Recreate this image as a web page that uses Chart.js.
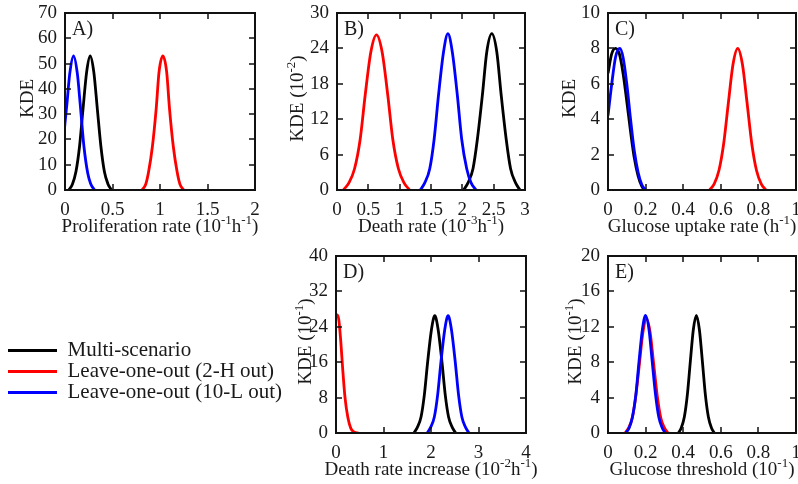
<!DOCTYPE html>
<html>
<head>
<meta charset="utf-8">
<script src="https://cdn.jsdelivr.net/npm/chart.js@4.4.0/dist/chart.umd.min.js"></script>
<style>
  body { margin: 0; background: #fff; }
  #wrap { position: relative; width: 798px; height: 484px; overflow: hidden; }
  #wrap canvas { position: absolute; left: 0; top: 0; }
  #wrap #legend { left: 8px; top: 340px; }
</style>
</head>
<body>
<div id="wrap">
  <canvas id="pa" width="798" height="484"></canvas>
  <canvas id="pb" width="798" height="484"></canvas>
  <canvas id="pc" width="798" height="484"></canvas>
  <canvas id="pd" width="798" height="484"></canvas>
  <canvas id="pe" width="798" height="484"></canvas>
  <canvas id="legend" width="300" height="150"></canvas>
</div>
<script>
// séries : abscisses et KDE pour chaque panneau
const seriesNames = ['Multi-scenario', 'Leave-one-out (2-H out)', 'Leave-one-out (10-L out)'];
const seriesColors = ['#000000', '#ff0000', '#0000ff'];

// A) Proliferation rate
const aBlackX = [0.04, 0.078, 0.115, 0.153, 0.19, 0.228, 0.265, 0.303, 0.34, 0.378, 0.415, 0.453, 0.49];
const aBlackY = [0, 2.3, 7.2, 17.2, 32.2, 46.7, 53, 46.7, 32.2, 17.2, 7.2, 2.3, 0];
const aRedX = [0.81, 0.85, 0.88, 0.92, 0.96, 0.99, 1.03, 1.07, 1.10, 1.14, 1.18, 1.21, 1.25];
const aRedY = [0, 2.3, 7.2, 17.2, 32.2, 46.7, 53, 46.7, 32.2, 17.2, 7.2, 2.3, 0];
const aBlueX = [-0.03, 0, 0.02, 0.05, 0.09, 0.13, 0.16, 0.2, 0.24, 0.27, 0.31];
const aBlueY = [14, 26.5, 34, 46, 53, 46, 34, 17, 6.5, 2.5, 0];

// B) Death rate
const bBlackX = [2.02, 2.09, 2.17, 2.24, 2.32, 2.39, 2.47, 2.55, 2.62, 2.70, 2.77, 2.85, 2.92];
const bBlackY = [0, 1.2, 3.6, 8.6, 16.1, 23.4, 26.5, 23.4, 16.1, 8.6, 3.6, 1.2, 0];
const bRedX = [0.1, 0.19, 0.28, 0.37, 0.45, 0.54, 0.63, 0.72, 0.81, 0.89, 0.98, 1.07, 1.16];
const bRedY = [0, 1.2, 3.6, 8.6, 16.1, 23.4, 26.3, 23.4, 16.1, 8.6, 3.6, 1.2, 0];
const bBlueX = [1.33, 1.40, 1.48, 1.55, 1.62, 1.70, 1.77, 1.84, 1.92, 1.99, 2.07, 2.14, 2.22];
const bBlueY = [0, 1.2, 3.6, 8.6, 16.1, 23.4, 26.5, 23.4, 16.1, 8.6, 3.6, 1.2, 0];

// C) Glucose uptake rate
const cBlackX = [0, 0.02, 0.04, 0.06, 0.08, 0.1, 0.12, 0.14, 0.16, 0.18, 0.195];
const cBlackY = [6.6, 7.7, 8, 7.7, 6.6, 5.0, 3.3, 1.8, 0.8, 0.2, 0];
const cRedX = [0.54, 0.565, 0.59, 0.615, 0.64, 0.665, 0.69, 0.715, 0.74, 0.765, 0.79, 0.815, 0.84];
const cRedY = [0, 0.35, 1.1, 2.6, 4.9, 7.1, 8, 7.1, 4.9, 2.6, 1.1, 0.35, 0];
const cBlueX = [0, 0.02, 0.04, 0.063, 0.08, 0.1, 0.12, 0.14, 0.16, 0.18, 0.2];
const cBlueY = [4.2, 6.0, 7.5, 8, 7.5, 6.0, 4.0, 2.2, 1.0, 0.3, 0];

// D) Death rate increase
const dBlackX = [1.64, 1.71, 1.79, 1.86, 1.93, 2.01, 2.08, 2.15, 2.23, 2.30, 2.37, 2.45, 2.52];
const dBlackY = [0, 1.2, 3.6, 8.6, 16.1, 23.4, 26.5, 23.4, 16.1, 8.6, 3.6, 1.2, 0];
const dRedX = [0, 0.03, 0.06, 0.1, 0.14, 0.19, 0.25, 0.31, 0.37, 0.43, 0.47];
const dRedY = [26.5, 26.7, 25.5, 20.8, 14.6, 8, 3.5, 1.1, 0.3, 0.05, 0];
const dBlueX = [1.92, 1.99, 2.07, 2.14, 2.21, 2.29, 2.36, 2.43, 2.51, 2.58, 2.65, 2.73, 2.80];
const dBlueY = [0, 1.2, 3.6, 8.6, 16.1, 23.4, 26.5, 23.4, 16.1, 8.6, 3.6, 1.2, 0];

// E) Glucose threshold
const eBlackX = [0.374, 0.39, 0.406, 0.422, 0.438, 0.454, 0.47, 0.486, 0.502, 0.518, 0.534, 0.55, 0.566];
const eBlackY = [0, 0.6, 1.8, 4.3, 8.1, 11.7, 13.3, 11.7, 8.1, 4.3, 1.8, 0.6, 0];
const eRedX = [0.091, 0.11, 0.129, 0.148, 0.167, 0.186, 0.205, 0.224, 0.243, 0.262, 0.281, 0.30, 0.319];
const eRedY = [0, 0.6, 1.7, 4.2, 7.8, 11.4, 12.9, 11.4, 7.8, 4.2, 1.7, 0.6, 0];
const eBlueX = [0.095, 0.113, 0.13, 0.148, 0.165, 0.183, 0.2, 0.218, 0.235, 0.253, 0.27, 0.288, 0.305];
const eBlueY = [0, 0.6, 1.8, 4.3, 8.1, 11.7, 13.3, 11.7, 8.1, 4.3, 1.8, 0.6, 0];

const FONT = 'Liberation Serif';
const INK = '#1a1a1a';
Chart.defaults.font.family = FONT;
Chart.defaults.color = INK;

const Y_W = 45, X_H = 40;

function serie(i, xs, ys) {
    return {
        label: seriesNames[i],
        data: xs.map((x, k) => ({ x, y: ys[k] })),
        borderColor: seriesColors[i],
        backgroundColor: seriesColors[i],
        borderWidth: 2.8,
        pointRadius: 0,
        cubicInterpolationMode: 'monotone',
        fill: false,
    };
}

// texte avec exposants : les morceaux qui commencent par ^ sont en exposant
function richWidth(ctx, parts, size) {
    let w = 0;
    parts.forEach(p => {
        const sup = p[0] === '^';
        ctx.font = (sup ? Math.round(size * 0.68) : size) + 'px "' + FONT + '"';
        w += ctx.measureText(sup ? p.slice(1) : p).width;
    });
    return w;
}
function drawRich(ctx, parts, x, y, size) {
    let cx = x - richWidth(ctx, parts, size) / 2;
    ctx.textAlign = 'left';
    ctx.textBaseline = 'alphabetic';
    parts.forEach(p => {
        const sup = p[0] === '^';
        const txt = sup ? p.slice(1) : p;
        ctx.font = (sup ? Math.round(size * 0.68) : size) + 'px "' + FONT + '"';
        ctx.fillText(txt, cx, sup ? y - size * 0.4 : y);
        cx += ctx.measureText(txt).width;
    });
}

function framePlugin(cfg) {
    return {
        id: 'frame',
        afterDatasetsDraw(chart) {
            const { ctx, chartArea: a, scales: { x, y } } = chart;
            ctx.save();
            ctx.strokeStyle = '#111';
            ctx.lineWidth = 1.5;
            ctx.beginPath();
            x.ticks.forEach(t => {
                const px = Math.round(x.getPixelForValue(t.value));
                ctx.moveTo(px, a.bottom); ctx.lineTo(px, a.bottom - 6);
                ctx.moveTo(px, a.top); ctx.lineTo(px, a.top + 6);
            });
            y.ticks.forEach(t => {
                const py = Math.round(y.getPixelForValue(t.value));
                ctx.moveTo(a.left, py); ctx.lineTo(a.left + 6, py);
                ctx.moveTo(a.right, py); ctx.lineTo(a.right - 6, py);
            });
            ctx.stroke();
            ctx.lineWidth = 2;
            ctx.strokeRect(a.left, a.top, a.right - a.left, a.bottom - a.top);

            ctx.fillStyle = INK;
            ctx.font = '20px "' + FONT + '"';
            ctx.textAlign = 'left';
            ctx.textBaseline = 'alphabetic';
            ctx.fillText(cfg.letter, a.left + 7, a.top + 22);

            drawRich(ctx, cfg.xTitle, (a.left + a.right) / 2, a.bottom + 42, 19);

            ctx.translate(a.left - cfg.yGap, (a.top + a.bottom) / 2 - 3);
            ctx.rotate(-Math.PI / 2);
            drawRich(ctx, cfg.yTitle, 0, 0, 19);
            ctx.restore();
        },
    };
}

const plain = v => String(+Number(v).toFixed(3));

function panel(id, area, xMax, xStep, yMax, yStep, cfg, datasets) {
    new Chart(document.getElementById(id), {
        type: 'line',
        data: { datasets },
        options: {
            responsive: false,
            animation: false,
            devicePixelRatio: 1,
            layout: {
                padding: {
                    left: area.left - Y_W,
                    top: area.top,
                    right: 798 - area.right,
                    bottom: 484 - area.bottom - X_H,
                },
            },
            scales: {
                x: {
                    type: 'linear',
                    min: 0, max: xMax,
                    grid: { display: false, drawTicks: false },
                    border: { display: false },
                    ticks: { stepSize: xStep, padding: 9, maxRotation: 0, autoSkip: false, font: { size: 19 }, callback: plain },
                    afterFit(s) { s.height = X_H; s.paddingLeft = 0; s.paddingRight = 0; },
                },
                y: {
                    type: 'linear',
                    min: 0, max: yMax,
                    grid: { display: false, drawTicks: false },
                    border: { display: false },
                    ticks: { stepSize: yStep, padding: 8, autoSkip: false, font: { size: 19 }, callback: plain },
                    afterFit(s) { s.width = Y_W; s.paddingTop = 0; s.paddingBottom = 0; },
                },
            },
            plugins: { legend: { display: false }, tooltip: { enabled: false } },
        },
        plugins: [framePlugin(cfg)],
    });
}

panel('pa', { left: 65, top: 13, right: 255, bottom: 190 }, 2, 0.5, 70, 10,
    { letter: 'A)', xTitle: ['Proliferation rate (10', '^-1', 'h', '^-1', ')'], yTitle: ['KDE'], yGap: 32 },
    [serie(2, aBlueX, aBlueY), serie(1, aRedX, aRedY), serie(0, aBlackX, aBlackY)]);

panel('pb', { left: 337, top: 13, right: 525, bottom: 190 }, 3, 0.5, 30, 6,
    { letter: 'B)', xTitle: ['Death rate (10', '^-3', 'h', '^-1', ')'], yTitle: ['KDE (10', '^-2', ')'], yGap: 34 },
    [serie(2, bBlueX, bBlueY), serie(1, bRedX, bRedY), serie(0, bBlackX, bBlackY)]);

panel('pc', { left: 608, top: 13, right: 796, bottom: 190 }, 1, 0.2, 10, 2,
    { letter: 'C)', xTitle: ['Glucose uptake rate (h', '^-1', ')'], yTitle: ['KDE'], yGap: 33 },
    [serie(2, cBlueX, cBlueY), serie(1, cRedX, cRedY), serie(0, cBlackX, cBlackY)]);

panel('pd', { left: 336, top: 256, right: 526, bottom: 433 }, 4, 1, 40, 8,
    { letter: 'D)', xTitle: ['Death rate increase (10', '^-2', 'h', '^-1', ')'], yTitle: ['KDE (10', '^-1', ')'], yGap: 25 },
    [serie(2, dBlueX, dBlueY), serie(1, dRedX, dRedY), serie(0, dBlackX, dBlackY)]);

panel('pe', { left: 608, top: 256, right: 796, bottom: 433 }, 1, 0.2, 20, 4,
    { letter: 'E)', xTitle: ['Glucose threshold (10', '^-1', ')'], yTitle: ['KDE (10', '^-1', ')'], yGap: 27 },
    [serie(2, eBlueX, eBlueY), serie(0, eBlackX, eBlackY), serie(1, eRedX, eRedY)]);

// légende commune, dans la case vide en bas à gauche
new Chart(document.getElementById('legend'), {
    type: 'line',
    data: { datasets: [0, 1, 2].map(i => ({ ...serie(i, [], []), borderWidth: 3 })) },
    options: {
        responsive: false,
        animation: false,
        devicePixelRatio: 1,
        scales: { x: { display: false }, y: { display: false } },
        plugins: {
            tooltip: { enabled: false },
            legend: {
                position: 'top',
                align: 'start',
                labels: {
                    usePointStyle: true,
                    pointStyle: 'line',
                    pointStyleWidth: 49,
                    boxWidth: 49,
                    padding: 0,
                    color: INK,
                    font: { size: 21 },
                },
            },
        },
    },
});
</script>
</body>
</html>
